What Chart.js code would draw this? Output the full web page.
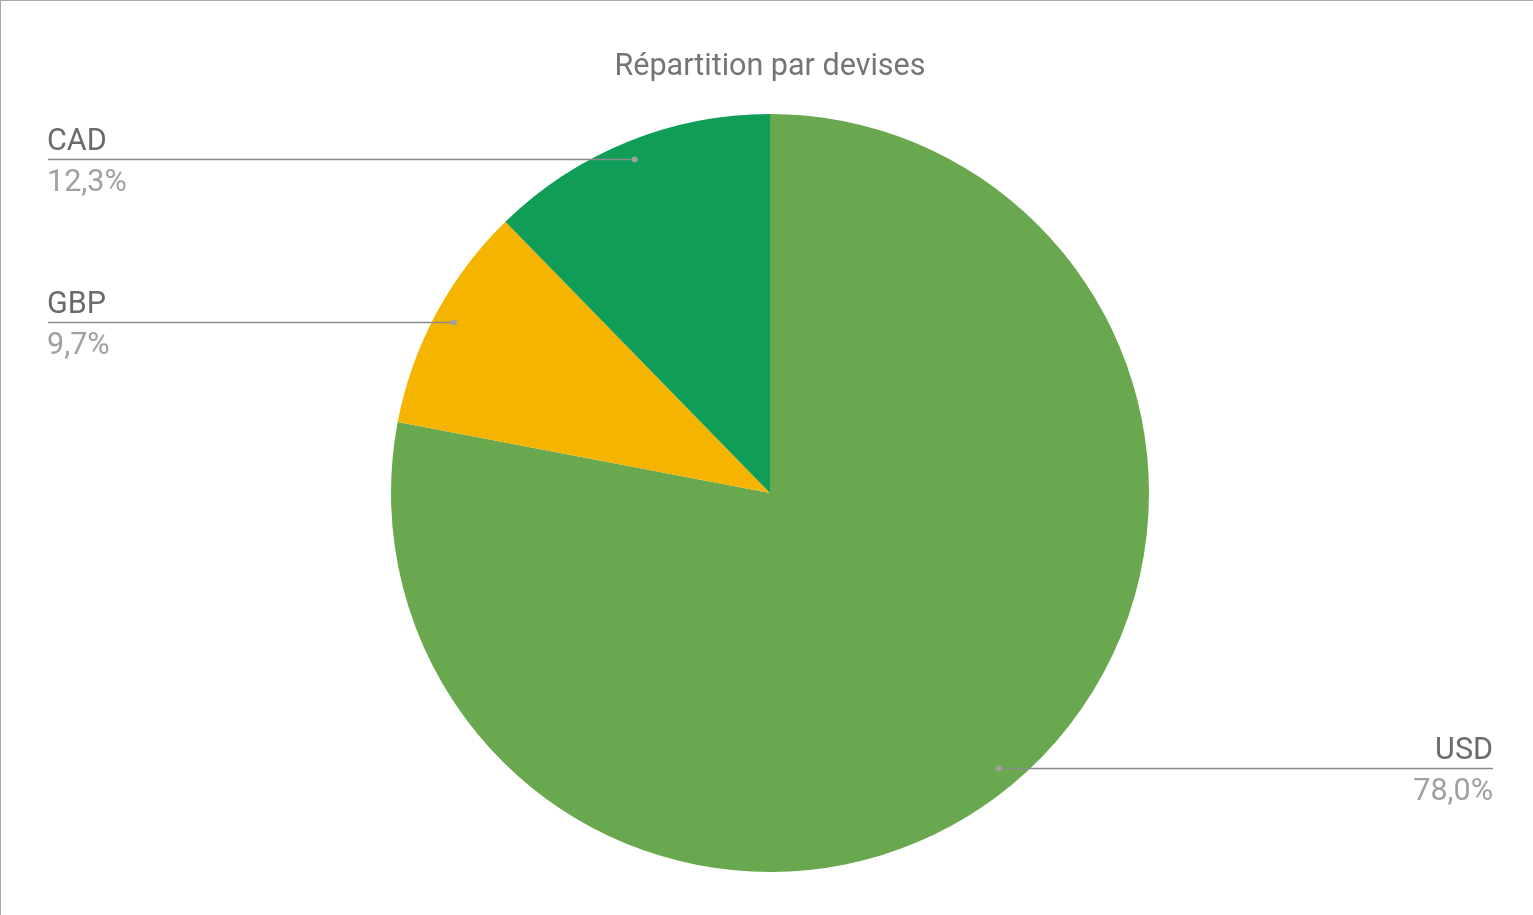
<!DOCTYPE html>
<html lang="fr">
<head>
    <meta charset="UTF-8">
    <title>Répartition par devises</title>
    <style>
        body {
            margin: 0;
            padding: 0;
            background-color: #fff;
            overflow: hidden;
        }

        .container {
            position: relative;
            width: 1533px;
            height: 915px;
            box-sizing: border-box;
            border-top: 1px solid #a8a8a8;
            border-left: 1px solid #a8a8a8;
        }

        .container canvas {
            position: absolute;
            top: 0;
            left: 0;
        }
    </style>
</head>
<body>

    <div class="container">
        <canvas id="pieChart" width="1533" height="915"></canvas>
    </div>

    <script src="https://cdn.jsdelivr.net/npm/chart.js"></script>
    <script>
        // Currency split (percent of total)
        const currencies = ['USD', 'GBP', 'CAD'];
        const shares = [78.0, 9.7, 12.3];
        const sliceColors = ['#6aa84f', '#f4b400', '#0f9d58'];

        const labelFont = '30.5px Roboto';

        // French style percentage: 12,3%
        const formatPct = (v, total) => (v / total * 100).toFixed(1).replace('.', ',') + '%';

        // Draws leader lines with name above and percentage below
        const leaderLabels = {
            id: 'leaderLabels',
            afterDatasetsDraw(chart) {
                const ctx = chart.ctx;
                const meta = chart.getDatasetMeta(0);
                const total = shares.reduce((a, b) => a + b, 0);
                const leftX = 46;
                const rightX = 1492;

                meta.data.forEach((arc, i) => {
                    const mid = (arc.startAngle + arc.endAngle) / 2;
                    const r = arc.outerRadius * 0.947;
                    const px = arc.x + Math.cos(mid) * r;
                    const py = Math.floor(arc.y + Math.sin(mid) * r) - 0.5;
                    const onRight = Math.cos(mid) > 0;
                    const endX = onRight ? rightX : leftX;

                    ctx.save();
                    ctx.strokeStyle = '#8a8a8a';
                    ctx.lineWidth = 1.3;
                    ctx.beginPath();
                    ctx.moveTo(px, py);
                    ctx.lineTo(endX + (onRight ? 0 : 1), py);
                    ctx.stroke();

                    ctx.fillStyle = '#a0a0a0';
                    ctx.beginPath();
                    ctx.arc(px, py, 3, 0, Math.PI * 2);
                    ctx.fill();

                    ctx.font = labelFont;
                    ctx.textAlign = onRight ? 'right' : 'left';
                    ctx.textBaseline = 'alphabetic';
                    ctx.fillStyle = '#6b6b6b';
                    ctx.fillText(currencies[i], endX, py - 10);
                    ctx.fillStyle = '#a0a0a0';
                    ctx.fillText(formatPct(shares[i], total), endX, py + 31);
                    ctx.restore();
                });
            }
        };

        const ctx = document.getElementById('pieChart').getContext('2d');
        const pieChart = new Chart(ctx, {
            type: 'pie',
            data: {
                labels: currencies,
                datasets: [{
                    data: shares,
                    backgroundColor: sliceColors,
                    borderWidth: 0
                }]
            },
            options: {
                responsive: false,
                animation: false,
                layout: {
                    padding: { left: 5, right: 0, top: 0, bottom: 44 }
                },
                plugins: {
                    legend: { display: false },
                    tooltip: { enabled: false },
                    title: {
                        display: true,
                        text: 'Répartition par devises',
                        color: '#757575',
                        font: { family: 'Roboto', size: 30.5, weight: 'normal', lineHeight: 1.2 },
                        padding: { top: 48, bottom: 28.4 }
                    }
                }
            },
            plugins: [leaderLabels]
        });
    </script>

</body>
</html>
